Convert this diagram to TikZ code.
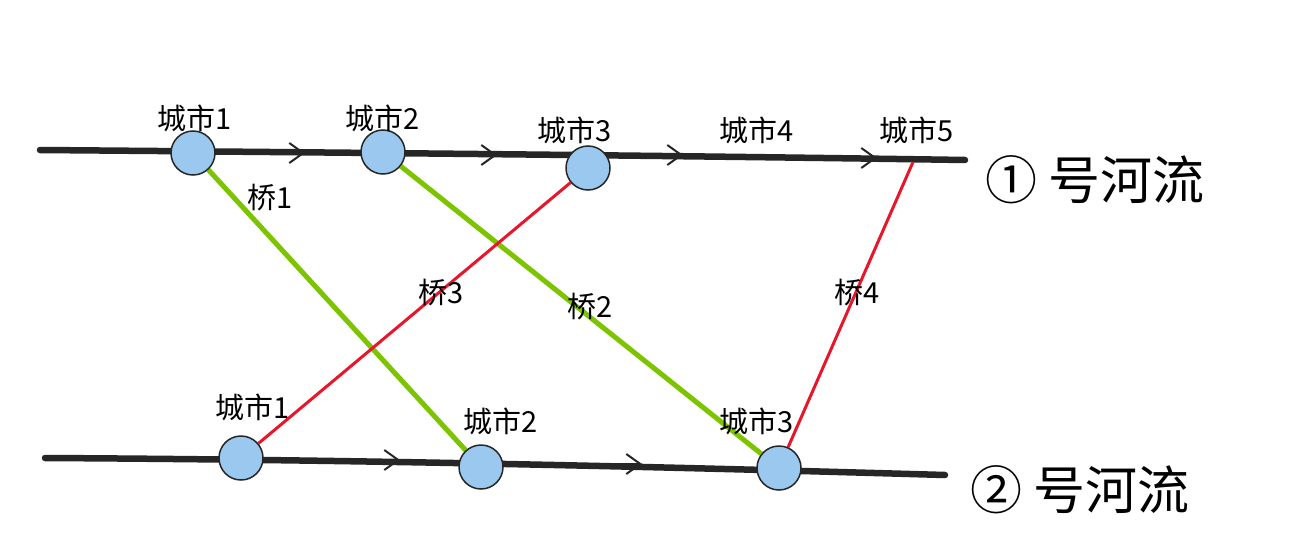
\documentclass[tikz,border=0pt]{standalone}
\usepackage{fontspec}
\setmainfont{Liberation Sans}
\newfontfamily\cjk{Noto Sans CJK SC}
\usetikzlibrary{backgrounds,arrows.meta}
\definecolor{cityfill}{HTML}{9AC8EE}
\definecolor{brgreen}{HTML}{7DC400}
\definecolor{brred}{HTML}{E8162A}
\tikzset{
 city/.style={circle,draw=black!85,line width=1.5pt,fill=cityfill,minimum size=44pt,inner sep=0pt},
 lbl/.style={font=\cjk\fontsize{29}{29}\selectfont,inner sep=0pt},
 river/.style={line width=6.5pt,black!85,line cap=round},
 chev/.style={line width=2pt,black!85,-{Straight Barb[length=14pt,width=20pt]}},
 gbridge/.style={brgreen,line width=5pt},
 rbridge/.style={brred,line width=3pt},
 rname/.style={font=\cjk\fontsize{52}{52}\selectfont,inner sep=0pt}
}
\begin{document}
\begin{tikzpicture}[x=1pt,y=-1pt]
\useasboundingbox (0,0) rectangle (1300,559);
\node[city] (t1) at (193,153) {};
\node[city] (t2) at (383,152) {};
\node[city] (t3) at (588,168) {};
\coordinate (t5) at (913,162);
\node[city] (b1) at (241,458) {};
\node[city] (b2) at (481,467) {};
\node[city] (b3) at (779,468) {};
\coordinate (rs1) at (40,150);
\coordinate (re1) at (965,160);
\coordinate (rs2) at (45,458);
\coordinate (re2) at (945,475);
\begin{scope}[on background layer]
\draw[river] (rs1) .. controls (400,153) and (700,156) .. (re1);
\draw[river] (rs2) .. controls (400,460) and (700,468) .. (re2);
\draw[gbridge] (t1) -- (b2);
\draw[gbridge] (t2) -- (b3);
\draw[rbridge] (t3) -- (b1);
\draw[rbridge] (t5) -- (b3);
\end{scope}
\draw[chev] (272,153) -- (305,153);
\draw[chev] (464,155) -- (497,155);
\draw[chev] (650,155) -- (683,155);
\draw[chev] (844,158) -- (877,158);
\draw[chev] (367,460) -- (400,460);
\draw[chev] (609,464) -- (642,464);
\node[lbl] (l1) at (195,118) {城市1};
\node[lbl] (l2) at (383,118) {城市2};
\node[lbl] (l3) at (575,130) {城市3};
\node[lbl] (l4) at (757,130) {城市4};
\node[lbl] (l5) at (917,130) {城市5};
\node[lbl] (m1) at (253,407) {城市1};
\node[lbl] (m2) at (501,421) {城市2};
\node[lbl] (m3) at (757,421) {城市3};
\node[lbl] (q1) at (270,198) {桥1};
\node[lbl] (q2) at (590,307) {桥2};
\node[lbl] (q3) at (441,293) {桥3};
\node[lbl] (q4) at (857,293) {桥4};
\node[rname,anchor=west] (n1) at (985,180) {① 号河流};
\node[rname,anchor=west] (n2) at (970,490) {② 号河流};
\end{tikzpicture}
\end{document}
